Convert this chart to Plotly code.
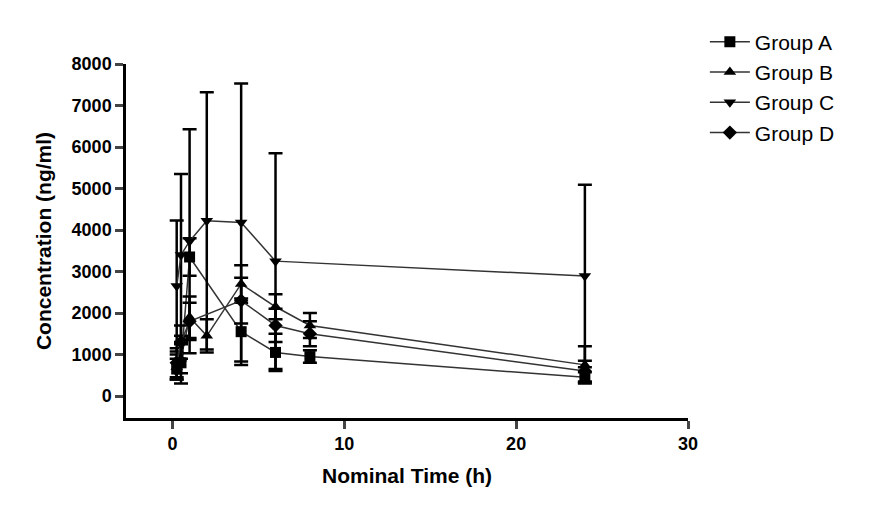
import plotly.graph_objects as go

group_a_t = [0.25, 0.5, 1, 4, 6, 8, 24]
group_a = [650, 800, 3350, 1550, 1050, 950, 450]
group_a_sd = [250, 500, 450, 800, 450, 150, 120]

group_b_t = [0.25, 0.5, 1, 2, 4, 6, 8, 24]
group_b = [700, 900, 1900, 1450, 2700, 2150, 1700, 750]
group_b_sd = [300, 350, 500, 400, 450, 300, 300, 450]

group_c_t = [0.25, 0.5, 1, 2, 4, 6, 24]
group_c = [2650, 3400, 3730, 4220, 4180, 3250, 2890]
group_c_sd = [1580, 1950, 2700, 3100, 3350, 2600, 2200]

group_d_t = [0.25, 0.5, 1, 4, 6, 8, 24]
group_d = [800, 1300, 1800, 2300, 1700, 1500, 600]
group_d_sd = [350, 400, 450, 550, 400, 300, 250]

series = [
    ("Group A", group_a_t, group_a, group_a_sd, "square"),
    ("Group B", group_b_t, group_b, group_b_sd, "triangle-up"),
    ("Group C", group_c_t, group_c, group_c_sd, "triangle-down"),
    ("Group D", group_d_t, group_d, group_d_sd, "diamond"),
]

fig = go.Figure()
for name, t, y, sd, sym in series:
    fig.add_trace(go.Scatter(
        x=t, y=y, name=name, mode="lines+markers",
        line=dict(color="#333333", width=1.5),
        marker=dict(symbol=sym, size=11, color="black"),
        error_y=dict(type="data", array=sd, visible=True, color="black",
                     thickness=2.5, width=7),
    ))

fig.update_layout(
    width=891, height=510,
    paper_bgcolor="white", plot_bgcolor="white",
    margin=dict(l=118, r=211, t=56, b=100),
    font=dict(family="Liberation Sans, Arial", color="black", size=16),
    legend=dict(x=1.03, y=1.12, xanchor="left", yanchor="top",
                font=dict(size=21, family="Liberation Sans, Arial"),
                tracegroupgap=14, itemwidth=40),
)
fig.update_xaxes(
    range=[-2.7, 30], tickvals=[0, 10, 20, 30], showgrid=False, zeroline=False,
    showline=True, linecolor="black", linewidth=2.5, ticks="outside",
    ticklen=8, tickwidth=2.5,
    title=dict(text="<b>Nominal Time (h)</b>", font=dict(size=21)),
    tickfont=dict(size=18, weight="bold"),
)
fig.update_yaxes(
    range=[-530, 8000], tickvals=list(range(0, 8001, 1000)),
    showgrid=False, zeroline=False,
    showline=True, linecolor="black", linewidth=2.5, ticks="outside",
    ticklen=8, tickwidth=2.5,
    title=dict(text="<b>Concentration (ng/ml)</b>", font=dict(size=21)),
    tickfont=dict(size=18, weight="bold"),
)
fig.write_html("out.html")
